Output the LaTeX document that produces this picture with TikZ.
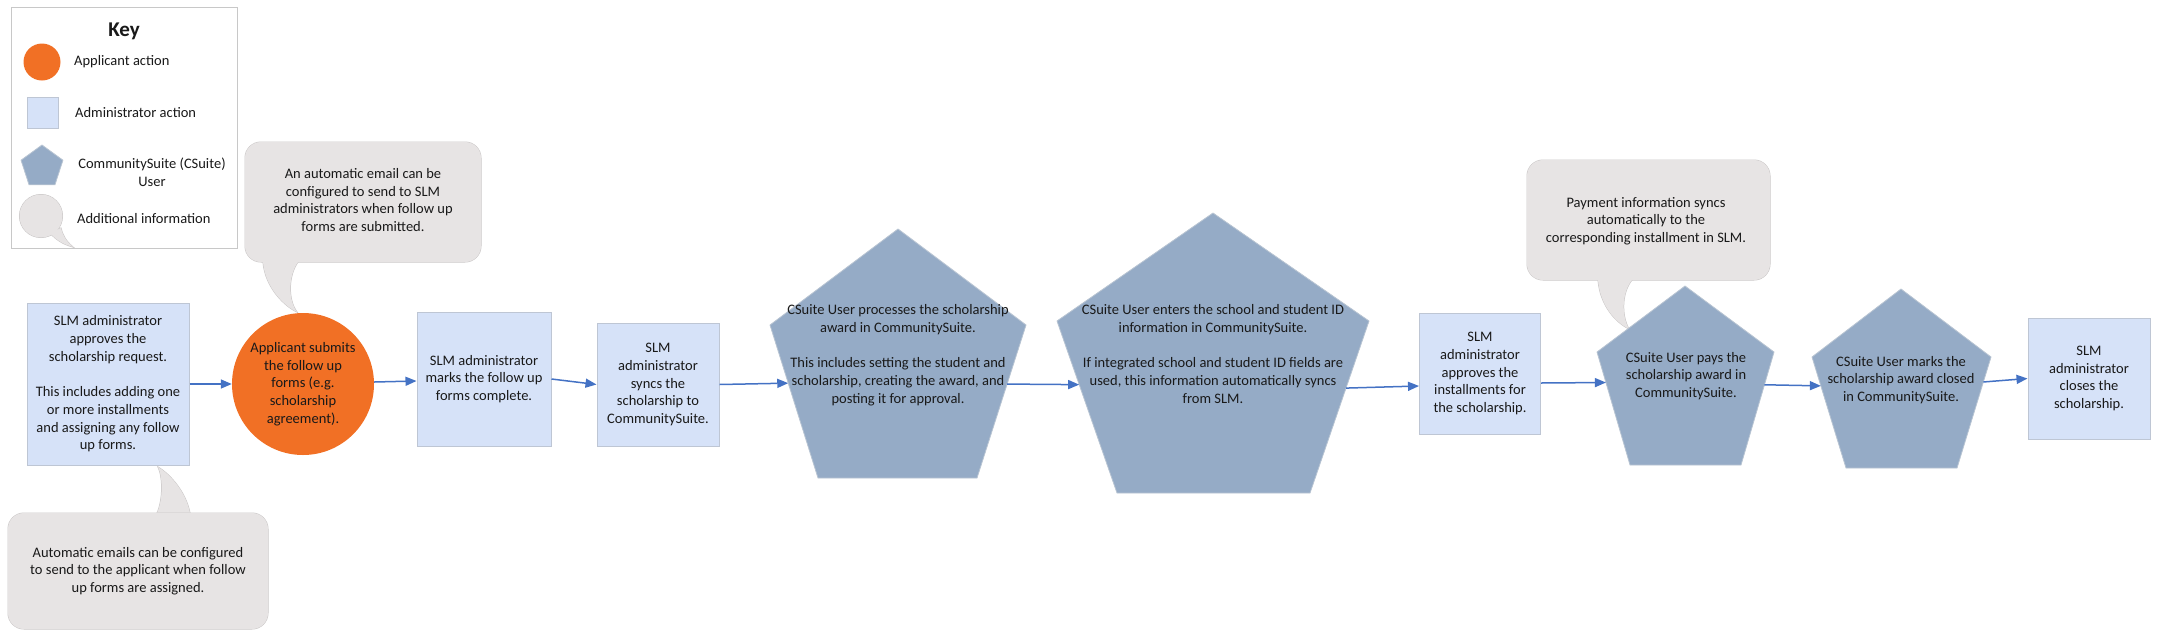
\documentclass[tikz,border=0pt]{standalone}
\usepackage{fontspec}
\setmainfont{Carlito}
\usetikzlibrary{arrows.meta,calc,shapes.geometric}
\definecolor{orangeA}{RGB}{241,112,37}
\definecolor{adminfill}{RGB}{214,226,248}
\definecolor{adminline}{RGB}{190,198,212}
\definecolor{pentfill}{RGB}{149,171,198}
\definecolor{pentline}{RGB}{184,196,210}
\definecolor{bubfill}{RGB}{231,228,228}
\definecolor{bubline}{RGB}{200,197,197}
\definecolor{arrowblue}{RGB}{68,114,196}
\definecolor{keyline}{RGB}{200,200,200}
\definecolor{txt}{RGB}{25,25,25}
\begin{document}
\begin{tikzpicture}[x=1pt,y=-1pt,
  font=\fontsize{14.5}{17.7}\selectfont, text=txt,
  admin/.style={rectangle, fill=adminfill, draw=adminline, line width=1pt, align=center, inner sep=0pt},
  applicant/.style={circle, fill=orangeA, draw=none, align=center, inner sep=0pt},
  pentshape/.style={fill=pentfill, draw=pentline, line width=0.8pt},
  ptext/.style={align=center, inner sep=0pt},
  bubbord/.style={draw=bubline, line width=1pt},
  bubfil/.style={fill=bubfill},
  arr/.style={draw=arrowblue, line width=1.5pt, -{Triangle[length=11pt,width=9pt]}},
  keylabel/.style={anchor=west, inner sep=0pt, align=center}]
\useasboundingbox (0,0) rectangle (2157,638);

% ---------------- Key ----------------
\node[draw=keyline, fill=white, line width=1pt, minimum width=226, minimum height=241, inner sep=0pt] (key) at (124,127.5) {};
\node[font=\fontsize{21}{25}\selectfont\bfseries] (keytitle) at (124,31) {Key};
\node[applicant, minimum size=37] (kc) at (42,62) {};
\node[keylabel] (kcl) at (74,62) {Applicant action};
\node[admin, minimum size=31] (ka) at (42.5,112.5) {};
\node[keylabel] (kal) at (75,113) {Administrator action};
\node[regular polygon, regular polygon sides=5, minimum size=44, inner sep=0pt, pentshape] (kp) at (42,167) {};
\node[ptext] (kpl) at (152,172) {CommunitySuite (CSuite)\\User};
\path[bubbord] (41,216) circle[radius=21.5];
\path[bubbord] (50,233) .. controls (58,242) and (66,245) .. (73,247) .. controls (66,241) and (63,236) .. (61,228) -- cycle;
\path[bubfil] (41,216) circle[radius=21.5];
\path[bubfil] (50,233) .. controls (58,242) and (66,245) .. (73,247) .. controls (66,241) and (63,236) .. (61,228) -- cycle;
\node[keylabel] (kbl) at (77,219) {Additional information};

% ---------------- Callout bubbles ----------------
% bubble 1
\path[bubbord,rounded corners=16] (245,142) rectangle (481,262);
\path[bubbord] (263,255) -- (263,262) .. controls (265,287) and (284,306) .. (297,312) .. controls (288,300) and (288,276) .. (298,262) -- (298,255) -- cycle;
\path[bubfil,rounded corners=16] (245,142) rectangle (481,262);
\path[bubfil] (263,255) -- (263,262) .. controls (265,287) and (284,306) .. (297,312) .. controls (288,300) and (288,276) .. (298,262) -- (298,255) -- cycle;
\node[ptext] (n1) at (363,200) {An automatic email can be\\configured to send to SLM\\administrators when follow up\\forms are submitted.};

% bubble 2
\path[bubbord] (157,520) -- (157,513) .. controls (163,500) and (163,477) .. (158,467) .. controls (170,474) and (186,492) .. (190,513) -- (190,520) -- cycle;
\path[bubfil] (157,520) -- (157,513) .. controls (163,500) and (163,477) .. (158,467) .. controls (170,474) and (186,492) .. (190,513) -- (190,520) -- cycle;
\path[bubbord,rounded corners=16] (8,513) rectangle (268,629);
\path[bubfil,rounded corners=16] (8,513) rectangle (268,629);
\path[bubfil] (158,514) rectangle (189,522);
\node[ptext] (n2) at (138,571) {Automatic emails can be configured\\to send to the applicant when follow\\up forms are assigned.};

% bubble 3
\path[bubbord,rounded corners=16] (1527,160) rectangle (1770,280);
\path[bubbord] (1598,273) -- (1598,280) .. controls (1600,305) and (1615,322) .. (1629,329) .. controls (1621,315) and (1622,292) .. (1632,280) -- (1632,273) -- cycle;
\path[bubfil,rounded corners=16] (1527,160) rectangle (1770,280);
\path[bubfil] (1598,273) -- (1598,280) .. controls (1600,305) and (1615,322) .. (1629,329) .. controls (1621,315) and (1622,292) .. (1632,280) -- (1632,273) -- cycle;
\node[ptext] (n3) at (1646,221) {Payment information syncs\\automatically to the\\corresponding installment in SLM.};

% ---------------- Process nodes ----------------
\node[admin, minimum width=162, minimum height=162] (b1) at (108,384) {SLM administrator\\approves the\\scholarship request.\\[17.7pt]This includes adding one\\or more installments\\and assigning any follow\\up forms.};
\node[applicant, minimum size=142] (c1) at (303,384) {Applicant submits\\the follow up\\forms (e.g.\\scholarship\\agreement).};
\node[admin, minimum width=134, minimum height=134] (b2) at (484,379) {SLM administrator\\marks the follow up\\forms complete.};
\node[admin, minimum width=122, minimum height=123] (b3) at (658,384.5) {SLM\\administrator\\syncs the\\scholarship to\\CommunitySuite.};

% pentagon 1
\coordinate (p1t) at (898,229); \coordinate (p1ur) at (1026,325); \coordinate (p1br) at (977,478);
\coordinate (p1bl) at (818,478); \coordinate (p1ul) at (770,325);
\path[pentshape] (p1t) -- (p1ur) -- (p1br) -- (p1bl) -- (p1ul) -- cycle;
\node[ptext] (p1) at (898,355) {CSuite User processes the scholarship\\award in CommunitySuite.\\[17.7pt]This includes setting the student and\\scholarship, creating the award, and\\posting it for approval.};

% pentagon 2
\coordinate (p2t) at (1213,213); \coordinate (p2ur) at (1369,321); \coordinate (p2br) at (1310,493);
\coordinate (p2bl) at (1117,493); \coordinate (p2ul) at (1057,321);
\path[pentshape] (p2t) -- (p2ur) -- (p2br) -- (p2bl) -- (p2ul) -- cycle;
\node[ptext] (p2) at (1213,354) {CSuite User enters the school and student ID\\information in CommunitySuite.\\[17.7pt]If integrated school and student ID fields are\\used, this information automatically syncs\\from SLM.};

\node[admin, minimum width=121, minimum height=121] (b4) at (1480,373.5) {SLM\\administrator\\approves the\\installments for\\the scholarship.};

% pentagon 3
\coordinate (p3t) at (1685,286); \coordinate (p3ur) at (1774,352); \coordinate (p3br) at (1741,465);
\coordinate (p3bl) at (1630,465); \coordinate (p3ul) at (1597,352);
\path[pentshape] (p3t) -- (p3ur) -- (p3br) -- (p3bl) -- (p3ul) -- cycle;
\node[ptext] (p3) at (1686,376) {CSuite User pays the\\scholarship award in\\CommunitySuite.};

% pentagon 4
\coordinate (p4t) at (1901,289); \coordinate (p4ur) at (1991,357); \coordinate (p4br) at (1957,468);
\coordinate (p4bl) at (1846,468); \coordinate (p4ul) at (1812,357);
\path[pentshape] (p4t) -- (p4ur) -- (p4br) -- (p4bl) -- (p4ul) -- cycle;
\node[ptext] (p4) at (1901,380) {CSuite User marks the\\scholarship award closed\\in CommunitySuite.};

\node[admin, minimum width=122, minimum height=121] (b5) at (2089,378.5) {SLM\\administrator\\closes the\\scholarship.};

% connector end points on pentagon edges
\coordinate (p1w) at ($(p1ul)!0.38!(p1bl)$);
\coordinate (p1e) at ($(p1ur)!0.386!(p1br)$);
\coordinate (p2w) at ($(p2ul)!0.37!(p2bl)$);
\coordinate (p2e) at ($(p2ur)!0.39!(p2br)$);
\coordinate (p3w) at ($(p3ul)!0.27!(p3bl)$);
\coordinate (p3e) at ($(p3ur)!0.29!(p3br)$);
\coordinate (p4w) at ($(p4ul)!0.26!(p4bl)$);
\coordinate (p4e) at ($(p4ur)!0.225!(p4br)$);

% ---------------- Connectors ----------------
\draw[arr] (b1.east) -- (c1.west);
\draw[arr] ($(c1.east)+(0,-2)$) -- ($(b2.west)+(0,2)$);
\draw[arr] (b2.east) -- (b3.west);
\draw[arr] (b3.east) -- (p1w);
\draw[arr] (p1e) -- (p2w);
\draw[arr] (p2e) -- ($(b4.west)+(0,12.5)$);
\draw[arr] ($(b4.east)+(0,9.5)$) -- (p3w);
\draw[arr] (p3e) -- (p4w);
\draw[arr] (p4e) -- (b5.west);
\end{tikzpicture}
\end{document}
